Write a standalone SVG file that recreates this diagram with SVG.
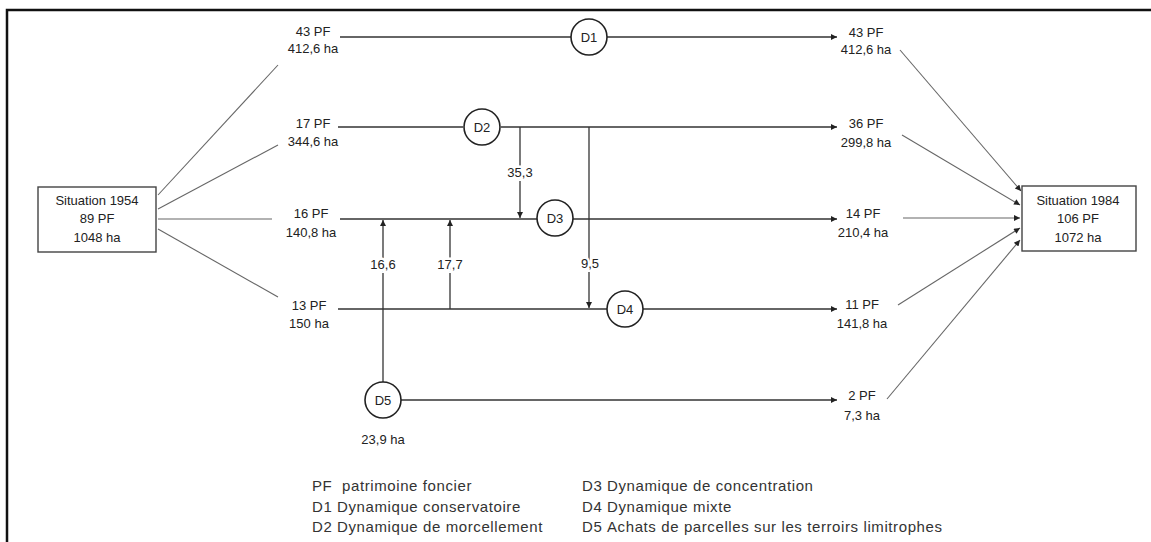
<svg xmlns="http://www.w3.org/2000/svg" width="1151" height="542" viewBox="0 0 1151 542">
<style>
  text { font-family: "Liberation Sans", Arial, sans-serif; font-size: 13px; fill: #222; }
  .c { text-anchor: middle; }
  .lbl { text-anchor: middle; paint-order: stroke; stroke: #fff; stroke-width: 5px; }
  .leg { font-size: 15px; letter-spacing: 0.6px; fill: #333; }
  .ln { stroke: #333; stroke-width: 1.3; fill: none; }
  .fan { stroke: #666; stroke-width: 1.1; fill: none; }
  .node circle { fill: #fff; stroke: #222; stroke-width: 1.6; }
  .box rect { fill: #fff; stroke: #444; stroke-width: 1.4; }
</style>
<defs>
  <marker id="ah" viewBox="0 0 10 10" refX="10" refY="5" markerWidth="8" markerHeight="6" markerUnits="userSpaceOnUse" orient="auto">
    <path d="M0,0 L10,5 L0,10 Z" fill="#222"/>
  </marker>
</defs>
<rect x="7" y="10" width="1160" height="560" fill="none" stroke="#111" stroke-width="2.5"/>

<g id="connectors">
  <line class="fan" x1="158" y1="195" x2="278" y2="65"/>
  <line class="fan" x1="158" y1="209" x2="278" y2="145"/>
  <line class="fan" x1="158" y1="219" x2="272" y2="219"/>
  <line class="fan" x1="158" y1="229" x2="278" y2="297"/>
  <line class="ln" x1="340" y1="37" x2="571" y2="37"/>
  <line class="ln" x1="607" y1="37" x2="837" y2="37" marker-end="url(#ah)"/>
  <line class="ln" x1="338" y1="127" x2="463" y2="127"/>
  <line class="ln" x1="501" y1="127" x2="837" y2="127" marker-end="url(#ah)"/>
  <line class="ln" x1="340" y1="219" x2="537" y2="219"/>
  <line class="ln" x1="573" y1="219" x2="837" y2="219" marker-end="url(#ah)"/>
  <line class="ln" x1="338" y1="309" x2="607" y2="309"/>
  <line class="ln" x1="643" y1="309" x2="837" y2="309" marker-end="url(#ah)"/>
  <line class="ln" x1="401" y1="400" x2="837" y2="400" marker-end="url(#ah)"/>
  <line class="ln" x1="520" y1="127" x2="520" y2="218" marker-end="url(#ah)"/>
  <line class="ln" x1="589" y1="127" x2="589" y2="308" marker-end="url(#ah)"/>
  <line class="ln" x1="383" y1="382" x2="383" y2="220" marker-end="url(#ah)"/>
  <line class="ln" x1="450" y1="309" x2="450" y2="220" marker-end="url(#ah)"/>
  <line class="fan" x1="900" y1="50" x2="1021" y2="191" marker-end="url(#ah)"/>
  <line class="fan" x1="902" y1="135" x2="1020" y2="205" marker-end="url(#ah)"/>
  <line class="fan" x1="903" y1="218" x2="1020" y2="218" marker-end="url(#ah)"/>
  <line class="fan" x1="898" y1="305" x2="1020" y2="228" marker-end="url(#ah)"/>
  <line class="fan" x1="887" y1="399" x2="1020" y2="240" marker-end="url(#ah)"/>
  <text class="lbl" x="520" y="177">35,3</text>
  <text class="lbl" x="590" y="268">9,5</text>
  <text class="lbl" x="383" y="269">16,6</text>
  <text class="lbl" x="450" y="269">17,7</text>
</g>

<g id="situation1954" class="box">
  <rect x="38" y="187" width="118" height="65"/>
  <text class="c" x="97" y="205">Situation 1954</text>
  <text class="c" x="97" y="223">89 PF</text>
  <text class="c" x="97" y="242">1048 ha</text>
</g>
<g id="situation1984" class="box">
  <rect x="1022" y="186" width="114" height="65"/>
  <text class="c" x="1078" y="205">Situation 1984</text>
  <text class="c" x="1078" y="223">106 PF</text>
  <text class="c" x="1078" y="242">1072 ha</text>
</g>

<g id="start-labels">
  <text class="c" x="313" y="36">43 PF</text>
  <text class="c" x="313" y="53">412,6 ha</text>
  <text class="c" x="313" y="128">17 PF</text>
  <text class="c" x="313" y="146">344,6 ha</text>
  <text class="c" x="311" y="218">16 PF</text>
  <text class="c" x="311" y="237">140,8 ha</text>
  <text class="c" x="309" y="310">13 PF</text>
  <text class="c" x="309" y="328">150 ha</text>
  <text class="c" x="383" y="444">23,9 ha</text>
</g>
<g id="end-labels">
  <text class="c" x="866" y="37">43 PF</text>
  <text class="c" x="866" y="54">412,6 ha</text>
  <text class="c" x="866" y="128">36 PF</text>
  <text class="c" x="866" y="147">299,8 ha</text>
  <text class="c" x="863" y="218">14 PF</text>
  <text class="c" x="863" y="237">210,4 ha</text>
  <text class="c" x="862" y="309">11 PF</text>
  <text class="c" x="862" y="328">141,8 ha</text>
  <text class="c" x="862" y="400">2 PF</text>
  <text class="c" x="862" y="420">7,3 ha</text>
</g>

<g id="D1" class="node"><circle cx="589" cy="37" r="18"/><text class="c" x="589" y="42">D1</text></g>
<g id="D2" class="node"><circle cx="482" cy="127" r="18"/><text class="c" x="482" y="132">D2</text></g>
<g id="D3" class="node"><circle cx="555" cy="218" r="18"/><text class="c" x="555" y="223">D3</text></g>
<g id="D4" class="node"><circle cx="625" cy="309" r="18"/><text class="c" x="625" y="314">D4</text></g>
<g id="D5" class="node"><circle cx="383" cy="400" r="18"/><text class="c" x="383" y="405">D5</text></g>

<g id="legend">
  <text class="leg" x="312" y="491">PF</text>
  <text class="leg" x="342" y="491">patrimoine foncier</text>
  <text class="leg" x="312" y="512">D1</text>
  <text class="leg" x="337" y="512">Dynamique conservatoire</text>
  <text class="leg" x="312" y="532">D2</text>
  <text class="leg" x="337" y="532">Dynamique de morcellement</text>
  <text class="leg" x="582" y="491">D3</text>
  <text class="leg" x="607" y="491">Dynamique de concentration</text>
  <text class="leg" x="582" y="512">D4</text>
  <text class="leg" x="607" y="512">Dynamique mixte</text>
  <text class="leg" x="582" y="532">D5</text>
  <text class="leg" x="607" y="532">Achats de parcelles sur les terroirs limitrophes</text>
</g>
</svg>
